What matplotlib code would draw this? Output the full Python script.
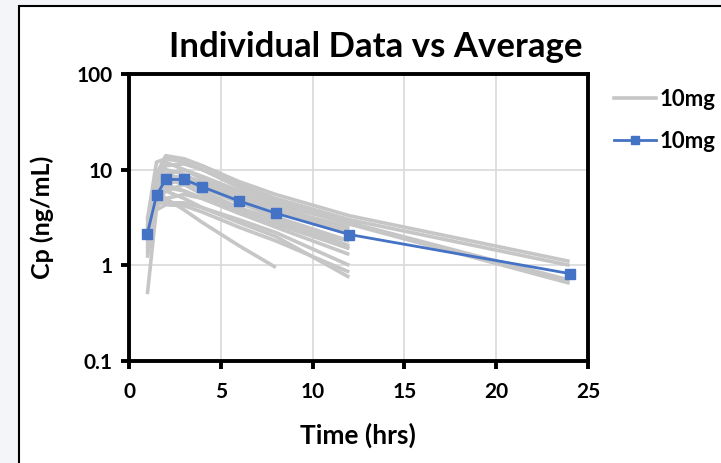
import numpy as np
import matplotlib.pyplot as plt
from matplotlib.patches import Rectangle
from matplotlib.lines import Line2D

plt.rcParams['font.family'] = ['Lato', 'DejaVu Sans']
plt.rcParams['font.weight'] = 'bold'

# sampling times (hrs)
times = [1, 1.5, 2, 3, 4, 6, 8, 12, 24]

# individual subject profiles (ng/mL), nan = not sampled
nan = np.nan
subjects = [
    [2.5, 9.0, 14.0, 13.0, 11.0, 7.5, 5.5, 3.3, 1.1],
    [3.0, 12.0, 13.0, 12.0, 10.0, 7.0, 5.0, 3.0, 1.0],
    [2.0, 7.0, 11.0, 11.5, 10.0, 6.5, 4.8, 2.8, 0.7],
    [1.5, 6.0, 9.0, 10.0, 8.5, 6.0, 4.5, 2.7, 0.65],
    [2.2, 8.0, 12.0, 10.0, 8.0, 5.5, 4.0, 2.5, nan],
    [1.8, 5.0, 8.0, 8.5, 7.5, 5.5, 4.2, 2.9, nan],
    [0.5, 4.0, 7.0, 8.0, 7.0, 5.0, 3.8, 2.2, nan],
    [1.2, 4.5, 6.0, 7.0, 6.5, 4.5, 3.2, 1.8, nan],
    [2.8, 6.5, 9.0, 8.0, 6.0, 4.0, 3.0, 1.6, nan],
    [1.4, 5.0, 6.5, 6.0, 5.0, 3.5, 2.5, 1.3, nan],
    [1.7, 4.2, 5.0, 5.5, 5.0, 3.5, 2.7, 1.5, nan],
    [2.0, 4.5, 4.5, 4.5, 4.0, 3.0, 2.2, 1.0, nan],
    [1.6, 3.8, 4.3, 4.2, 3.6, 2.5, 1.8, 0.85, nan],
    [2.4, 5.5, 6.0, 5.0, 4.0, 2.8, 2.0, 0.75, nan],
    [3.0, 6.0, 5.0, 3.8, 2.8, 1.6, 0.95, nan, nan],
    [2.6, 9.0, 10.0, 9.0, 7.0, 5.0, 3.8, 2.4, nan],
    [1.3, 6.0, 8.0, 7.0, 5.5, 3.8, 2.8, 1.5, nan],
    [2.1, 5.0, 7.0, 6.0, 5.0, 3.7, 2.7, 1.8, nan],
]

# average profile
avg = [2.15, 5.4, 7.9, 7.9, 6.6, 4.7, 3.5, 2.1, 0.82]

W, H = 721, 463
fig = plt.figure(figsize=(W / 100, H / 100), dpi=100)
fig.patch.set_facecolor('#f3f5f9')
fig.add_artist(Rectangle((19 / W, -0.1), 1.0, (H - 6) / H + 0.1,
                         transform=fig.transFigure, facecolor='white',
                         edgecolor='black', linewidth=1.5, zorder=0))

ax = fig.add_axes([129 / W, 102 / H, 459 / W, 287 / H])
ax.set_facecolor('white')

gray = '#c6c6c6'
for s in subjects:
    t = np.array(times, dtype=float)
    v = np.array(s, dtype=float)
    m = ~np.isnan(v)
    ax.plot(t[m], v[m], color=gray, lw=2.6, solid_capstyle='butt', zorder=2)

ax.plot(times, avg, color='#4472C4', lw=2, marker='s', markersize=7, zorder=3)

ax.set_yscale('log')
ax.set_xlim(0, 25)
ax.set_ylim(0.1, 100)
ax.set_xticks([0, 5, 10, 15, 20, 25])
ax.set_yticks([0.1, 1, 10, 100])
ax.set_yticklabels(['0.1', '1', '10', '100'])
ax.minorticks_off()
ax.grid(True, color='#d9d9d9', lw=1.2, zorder=0)
ax.set_axisbelow(True)

for sp in ax.spines.values():
    sp.set_linewidth(2.8)
    sp.set_color('black')
ax.tick_params(width=2.8, length=6, labelsize=15, color='black')
ax.tick_params(axis='x', pad=9)
ax.tick_params(axis='y', pad=6)

fig.text(376 / W, 1 - 47 / H, 'Individual Data vs Average', fontsize=25,
         fontweight='bold', ha='center', va='center')
fig.text(358 / W, 1 - 435 / H, 'Time (hrs)', fontsize=19,
         fontweight='bold', ha='center', va='center')
fig.text(42 / W, 1 - 217 / H, 'Cp (ng/mL)', fontsize=18, rotation=90,
         fontweight='bold', ha='center', va='center')

handles = [Line2D([], [], color=gray, lw=2.6),
           Line2D([], [], color='#4472C4', lw=2, marker='s', markersize=6)]
fig.legend(handles, ['10mg', '10mg'], loc='upper left',
           bbox_to_anchor=(614 / W, 1 - 89 / H), frameon=False,
           borderpad=0, borderaxespad=0,
           handlelength=1.9, labelspacing=0.95, handletextpad=0.15,
           prop={'weight': 'bold', 'size': 16})

fig.savefig('out.png', dpi=100, facecolor=fig.get_facecolor())
